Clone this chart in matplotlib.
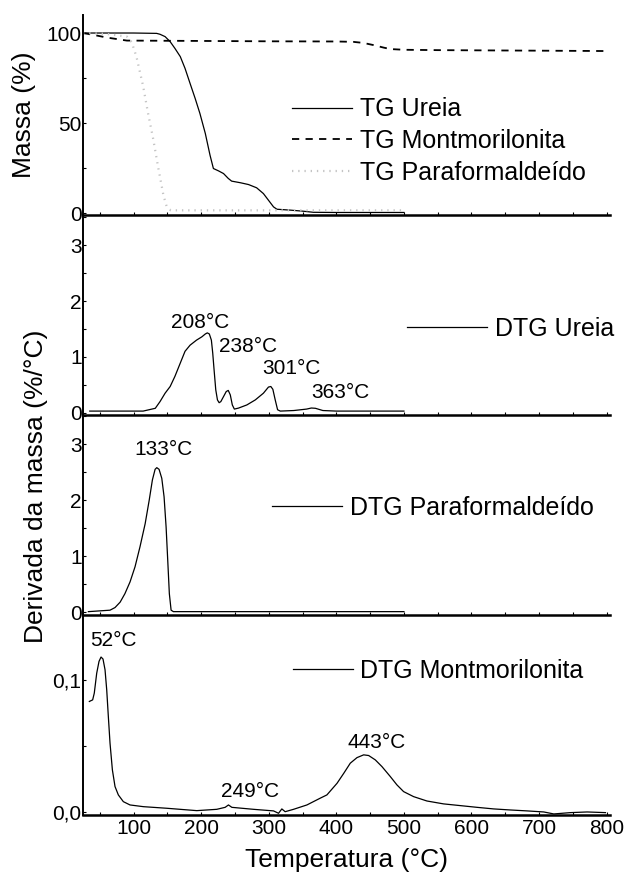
import matplotlib
matplotlib.use("Agg")
import matplotlib.pyplot as plt
from matplotlib.ticker import MultipleLocator, FixedLocator, FixedFormatter

plt.rcParams['font.family'] = ['Liberation Sans', 'DejaVu Sans']

# --- TG curves (mass %) ---
tg_ureia_t = [25, 60, 100, 134, 139, 146.5, 154, 161, 169, 176, 183.5, 191, 198, 206, 213, 218,
              225.5, 233, 240, 245, 258, 270, 282, 292, 299.5, 307, 312, 332, 351, 366, 400, 450, 500]
tg_ureia_m = [100, 100, 100, 99.8, 99.3, 98.0, 95.2, 91.5, 86.9, 80.4, 72.0, 63.7, 55.4, 44.3, 32.2, 24.8,
              23.5, 22.0, 19.3, 17.8, 16.9, 15.9, 14.1, 10.9, 7.2, 3.5, 2.2, 1.7, 1.1, 0.5, 0.4, 0.4, 0.4]

tg_mont_t = [25, 40, 60, 90, 200, 300, 400, 425, 440, 455, 470, 480, 500, 550, 650, 800]
tg_mont_m = [100, 99, 97.5, 95.8, 95.6, 95.4, 95.3, 95.1, 94.5, 93.3, 91.9, 91.1, 90.7, 90.5, 90.3, 90.0]

tg_para_t = [25, 60, 90, 97, 104, 114, 121, 129, 136, 144, 149, 155, 200, 300, 400, 500]
tg_para_m = [100, 99.5, 98, 95, 87, 70.5, 56, 41, 26, 10, 3.5, 1.6, 1.6, 1.6, 1.6, 1.6]

# --- DTG Ureia (%/°C) ---
dtg_ureia_t = [35, 80, 114, 132, 139, 146.5, 154, 161, 169, 176, 183.5, 193, 201, 206, 209, 212, 215,
               217, 219, 221.5, 224, 226.5, 229, 233, 237, 240, 243, 246, 249, 255, 267.5, 280, 292,
               299.5, 303, 306, 309.5, 313, 317, 337, 356, 363, 369, 380, 400, 450, 500]
dtg_ureia_v = [0.03, 0.03, 0.03, 0.08, 0.20, 0.35, 0.47, 0.65, 0.89, 1.10, 1.21, 1.30, 1.36, 1.41, 1.43,
               1.41, 1.30, 1.07, 0.77, 0.41, 0.23, 0.18, 0.20, 0.29, 0.38, 0.40, 0.32, 0.14, 0.066,
               0.083, 0.14, 0.23, 0.35, 0.46, 0.47, 0.42, 0.23, 0.054, 0.03, 0.04, 0.066, 0.085, 0.08,
               0.04, 0.03, 0.03, 0.03]

# --- DTG Paraformaldeído (%/°C) ---
dtg_para_t = [33, 65, 72.4, 80, 87, 94.6, 102, 109.4, 117, 123, 127.7, 131.7, 134.2, 137.6, 141.6,
              145, 148, 150.4, 152.8, 155.4, 158.8, 200, 300, 400, 500]
dtg_para_v = [0.01, 0.036, 0.083, 0.18, 0.33, 0.54, 0.81, 1.17, 1.58, 2.0, 2.36, 2.55, 2.58, 2.55, 2.39,
              2.06, 1.52, 0.93, 0.33, 0.036, 0.01, 0.01, 0.01, 0.01, 0.01]

# --- DTG Montmorilonita (%/°C) ---
dtg_mont_t = [34.4, 39.3, 41.7, 45.3, 48.7, 51.7, 54.6, 57.6, 60.1, 62.5, 65, 68.5, 72.4, 77.3, 84.7,
              94.6, 114.4, 149, 193.4, 223, 235.4, 240.3, 245.3, 277.3, 307, 314.4, 319.3, 324.2,
              336.6, 356.4, 376, 386, 401, 411, 420.6, 430.5, 440.4, 447.8, 457.6, 467.5, 479.8,
              489.6, 499.5, 514.3, 534, 558.7, 583.5, 608.2, 632.8, 657.6, 682.3, 707, 721.8, 746.5,
              771.2, 798.3]
dtg_mont_v = [0.0836, 0.0848, 0.0899, 0.105, 0.1139, 0.1172, 0.1157, 0.1076, 0.0924, 0.0722, 0.052,
              0.0318, 0.0192, 0.0129, 0.0078, 0.0053, 0.004, 0.0028, 0.001, 0.002, 0.0035, 0.0053,
              0.0035, 0.002, 0.0008, -0.001, 0.0023, 0.0002, 0.002, 0.0053, 0.0104, 0.0129, 0.0217,
              0.0293, 0.0369, 0.0411, 0.0432, 0.0427, 0.0394, 0.0343, 0.0268, 0.0205, 0.0154, 0.0116,
              0.0083, 0.0061, 0.0048, 0.0035, 0.0023, 0.0015, 0.0008, 0.0, -0.0015, -0.0005, 0.0,
              -0.0005]

# peak labels: (temperature, label height, text)
ureia_peaks = [(198, 1.62, "208°C"), (269, 1.18, "238°C"), (334, 0.80, "301°C"), (406, 0.37, "363°C")]
para_peaks = [(144, 2.90, "133°C")]
mont_peaks = [(70, 0.130, "52°C"), (273, 0.0154, "249°C"), (460, 0.0528, "443°C")]

xticks_bottom = [100, 200, 300, 400, 500, 600, 700, 800]

fig = plt.figure(figsize=(6.29, 8.76), dpi=100)
W, H = 629, 876
left_px, right_px = 83, 610
panel_px = [(15, 215), (215, 415), (415, 615), (615, 815)]
axes = []
for top, bot in panel_px:
    ax = fig.add_axes([left_px / W, 1 - bot / H, (right_px - left_px) / W, (bot - top) / H])
    axes.append(ax)

TICK_FS = 15
LEG_FS = 18
LAB_FS = 19
LW = 0.9

for ax in axes:
    ax.set_xlim(25, 805)
    ax.spines['top'].set_visible(False)
    ax.spines['right'].set_visible(False)
    ax.spines['left'].set_linewidth(1.4)
    ax.spines['bottom'].set_linewidth(1.8)
    ax.patch.set_alpha(0)
    ax.xaxis.set_major_locator(MultipleLocator(100))
    ax.xaxis.set_minor_locator(MultipleLocator(50))
    ax.tick_params(which='both', direction='in', length=2.5, width=0.8, labelsize=TICK_FS, pad=1)
    ax.tick_params(axis='x', which='both', labelbottom=False)

ax1, ax2, ax3, ax4 = axes

# TG panel
ax1.plot(tg_ureia_t, tg_ureia_m, color='black', lw=LW, label='TG Ureia')
ax1.plot(tg_mont_t, tg_mont_m, color='black', lw=1.3, linestyle=(0, (4, 3.5)), label='TG Montmorilonita')
ax1.plot(tg_para_t, tg_para_m, color='#c4c4c4', lw=1.6, linestyle=(0, (0.6, 2.2)), label='TG Paraformaldeído')
ax1.set_ylim(-1, 110)
ax1.yaxis.set_major_locator(FixedLocator([0, 50, 100]))
ax1.yaxis.set_minor_locator(MultipleLocator(25))
ax1.legend(loc='center left', bbox_to_anchor=(0.397, 0.37), frameon=False, fontsize=LEG_FS,
           borderpad=0, borderaxespad=0, handlelength=2.4, handletextpad=0.3, labelspacing=0.3)

# DTG Ureia
ax2.plot(dtg_ureia_t, dtg_ureia_v, color='black', lw=LW, label='DTG Ureia')
ax2.set_ylim(-0.04, 3.54)
ax2.yaxis.set_major_locator(FixedLocator([0, 1, 2, 3]))
ax2.yaxis.set_minor_locator(MultipleLocator(0.5))
ax2.legend(loc='center left', bbox_to_anchor=(0.615, 0.43), frameon=False, fontsize=LEG_FS,
           borderpad=0, borderaxespad=0, handlelength=3.2, handletextpad=0.3)
for t, v, s in ureia_peaks:
    ax2.text(t, v, s, ha='center', va='center', fontsize=TICK_FS)

# DTG Paraformaldeído
ax3.plot(dtg_para_t, dtg_para_v, color='black', lw=LW, label='DTG Paraformaldeído')
ax3.set_ylim(-0.05, 3.52)
ax3.yaxis.set_major_locator(FixedLocator([0, 1, 2, 3]))
ax3.yaxis.set_minor_locator(MultipleLocator(0.5))
ax3.legend(loc='center left', bbox_to_anchor=(0.359, 0.535), frameon=False, fontsize=LEG_FS,
           borderpad=0, borderaxespad=0, handlelength=2.8, handletextpad=0.3)
for t, v, s in para_peaks:
    ax3.text(t, v, s, ha='center', va='center', fontsize=TICK_FS)

# DTG Montmorilonita
ax4.plot(dtg_mont_t, dtg_mont_v, color='black', lw=LW, label='DTG Montmorilonita')
ax4.set_ylim(-0.0023, 0.149)
ax4.yaxis.set_major_locator(FixedLocator([0.0, 0.1]))
ax4.yaxis.set_major_formatter(FixedFormatter(['0,0', '0,1']))
ax4.yaxis.set_minor_locator(MultipleLocator(0.05))
ax4.legend(loc='center left', bbox_to_anchor=(0.398, 0.72), frameon=False, fontsize=LEG_FS,
           borderpad=0, borderaxespad=0, handlelength=2.4, handletextpad=0.3)
for t, v, s in mont_peaks:
    ax4.text(t, v, s, ha='center', va='center', fontsize=TICK_FS)
ax4.xaxis.set_major_locator(FixedLocator(xticks_bottom))
ax4.tick_params(axis='x', which='major', labelbottom=True, pad=3)

fig.text(24 / W, 1 - 115 / H, 'Massa (%)', rotation=90, ha='center', va='center', fontsize=LAB_FS)
fig.text(36 / W, 1 - 486 / H, 'Derivada da massa (%/°C)', rotation=90, ha='center', va='center', fontsize=LAB_FS)
fig.text(346 / W, 1 - 860 / H, 'Temperatura (°C)', ha='center', va='center', fontsize=LAB_FS)

fig.savefig('out.png', dpi=100)
